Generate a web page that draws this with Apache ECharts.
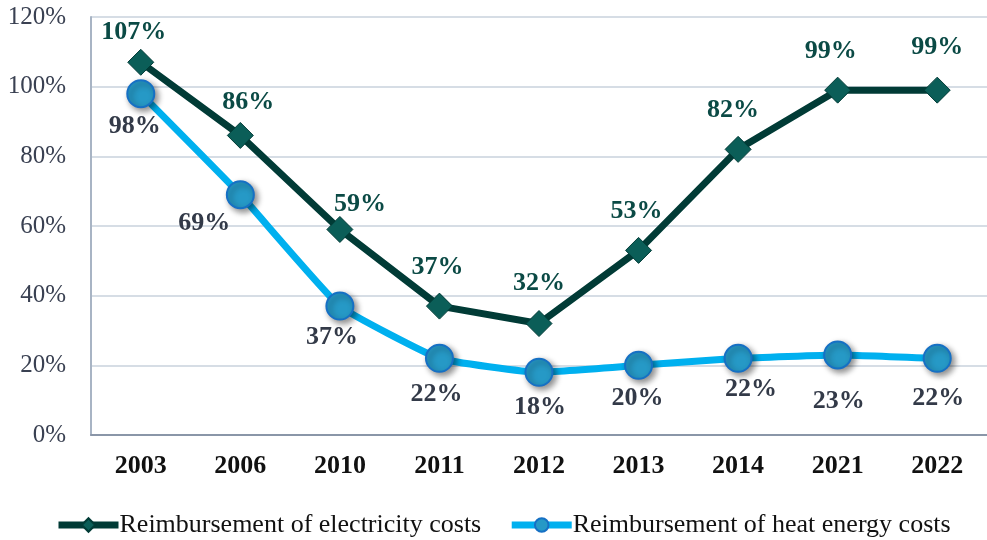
<!DOCTYPE html>
<html lang="en">
<head>
    <meta charset="UTF-8">
    <title>Reimbursement</title>
    <style>
        html, body { margin: 0; padding: 0; background: #fff; }
        #chart { width: 987px; height: 540px; }
    </style>
</head>
<body>
    <div id="chart"></div>
    <script src="https://cdn.jsdelivr.net/npm/echarts@6/dist/echarts.min.js"></script>
    <script>
        // data
        const years = ['2003', '2006', '2010', '2011', '2012', '2013', '2014', '2021', '2022'];
        const electricity = [107, 86, 59, 37, 32, 53, 82, 99, 99];
        const heat = [98, 69, 37, 22, 18, 20, 22, 23, 22];
        const yTicks = [0, 20, 40, 60, 80, 100, 120];

        // label nudges so they sit like in the original
        const elecLabelShift = [[-7, 8], [8, 5], [20, 13], [-2, 0], [0, -2], [-2, -1], [-5, -1], [-7, 0], [0, -4]];
        const heatLabelShift = [[-6, 0], [-36, -4], [-8, -1], [-3, 3], [1, 2], [-1, 0], [13, -2], [1, 14], [1, 7]];

        const serif = '"Liberation Serif", "DejaVu Serif", serif';

        const chart = echarts.init(document.getElementById('chart'));
        chart.setOption({
            animation: false,
            grid: { left: 91, right: 0, top: 17, bottom: 105 },
            legend: {
                top: 507,
                left: 50,
                itemWidth: 60,
                itemHeight: 17,
                itemGap: 27,
                lineStyle: { width: 7 },
                textStyle: { fontFamily: serif, fontSize: 26, color: '#111', padding: [0, 0, 0, -4] },
                data: ['Reimbursement of electricity costs', 'Reimbursement of heat energy costs']
            },
            xAxis: {
                type: 'category',
                data: years,
                axisLine: { lineStyle: { color: '#8a96a8', width: 2 } },
                axisTick: { show: false },
                axisLabel: {
                    fontFamily: serif, fontSize: 26, fontWeight: 'bold', color: '#111', margin: 18
                }
            },
            yAxis: {
                type: 'value',
                min: yTicks[0],
                max: yTicks[yTicks.length - 1],
                interval: 20,
                axisLine: { show: true, lineStyle: { color: '#a8b4c4', width: 2 } },
                splitLine: { lineStyle: { color: '#d6dde5', width: 2 } },
                axisLabel: {
                    fontFamily: serif, fontSize: 25, color: '#3a4152', margin: 25,
                    formatter: v => v + '%'
                }
            },
            series: [
                {
                    name: 'Reimbursement of electricity costs',
                    type: 'line',
                    z: 2,
                    data: electricity.map((v, i) => ({
                        value: v,
                        label: { offset: elecLabelShift[i] }
                    })),
                    symbol: 'diamond',
                    symbolSize: 26,
                    lineStyle: { color: '#013b36', width: 7 },
                    itemStyle: { color: '#0b5e58', borderColor: '#013b36', borderWidth: 1 },
                    label: {
                        show: true, position: 'top', distance: 12,
                        fontFamily: serif, fontSize: 26, fontWeight: 'bold', color: '#0b4a45',
                        formatter: p => p.value + '%'
                    }
                },
                {
                    name: 'Reimbursement of heat energy costs',
                    type: 'line',
                    z: 3,
                    smooth: 0.12,
                    data: heat.map((v, i) => ({
                        value: v,
                        label: { offset: heatLabelShift[i] }
                    })),
                    symbol: 'circle',
                    symbolSize: 27,
                    lineStyle: { color: '#00b0ef', width: 7 },
                    itemStyle: {
                        color: '#2699c6', borderColor: '#1670c4', borderWidth: 2,
                        shadowColor: 'rgba(0,0,0,0.45)', shadowBlur: 6, shadowOffsetX: 3, shadowOffsetY: 3
                    },
                    label: {
                        show: true, position: 'bottom', distance: 5,
                        fontFamily: serif, fontSize: 26, fontWeight: 'bold', color: '#333a48',
                        formatter: p => p.value + '%'
                    }
                }
            ]
        });
    </script>
</body>
</html>
